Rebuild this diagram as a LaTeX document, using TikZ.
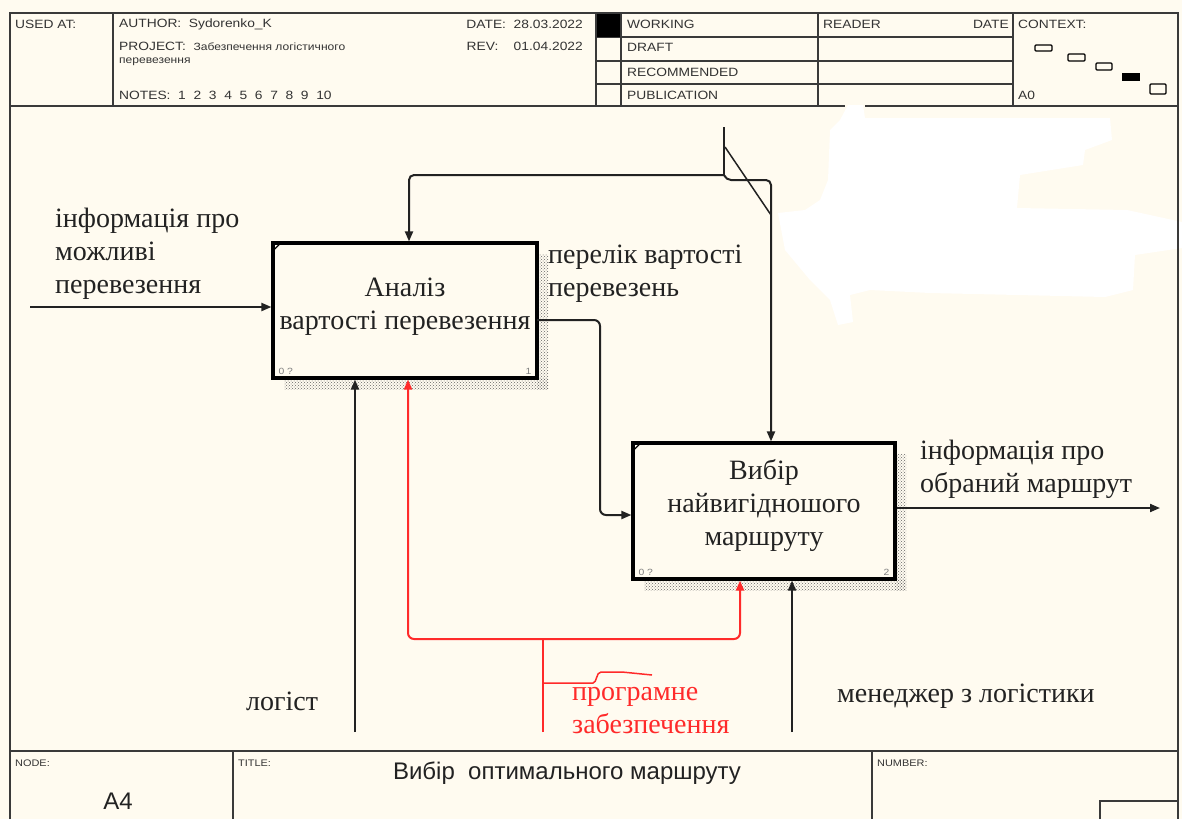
\documentclass[tikz,border=0pt]{standalone}
\usepackage{fontspec}
\setmainfont{Liberation Serif}
\newfontfamily\hsans{Liberation Sans}
\newfontfamily\hsansw[FakeStretch=1.15]{Liberation Sans}
\usetikzlibrary{arrows.meta,patterns,calc}
\definecolor{bg}{HTML}{FFFBF0}
\definecolor{frm}{HTML}{3A3A3A}
\definecolor{lab}{HTML}{333333}
\definecolor{idef}{HTML}{222222}
\definecolor{redc}{HTML}{FF2A2A}
\tikzset{
  frame/.style={draw=frm,line width=2pt},
  hdr/.style={font=\hsansw\fontsize{12}{14}\selectfont,text=lab,anchor=west,inner sep=0pt},
  hdrs/.style={font=\hsansw\fontsize{9.5}{11}\selectfont,text=lab,anchor=west,inner sep=0pt},
  actbox/.style={draw=black,line width=3.2pt,fill=bg,inner sep=0pt},
  boxtext/.style={align=center,inner sep=0pt,font=\fontsize{28}{33}\selectfont,text=idef},
  shadowstrip/.style={pattern=crosshatch dots,pattern color=black!60},
  lbl/.style={font=\fontsize{28}{33}\selectfont,text=idef,anchor=base west,align=left,inner sep=0pt},
  conn/.style={draw=idef,line width=2pt,rounded corners=6pt},
  arr/.style={conn,-{Triangle[length=10pt,width=8pt]}},
  rconn/.style={draw=redc,line width=2pt,rounded corners=6pt},
  rarr/.style={rconn,-{Triangle[length=10pt,width=8pt]}},
  tiny/.style={font=\hsansw\fontsize{9}{10}\selectfont,text=gray,inner sep=0pt},
  ctx/.style={draw=black,line width=1.2pt,fill=bg,rounded corners=1pt}
}
\begin{document}
\begin{tikzpicture}[x=1pt,y=-1pt]
\useasboundingbox (0,0) rectangle (1182,819);
\fill[bg] (0,0) rectangle (1182,819);
% erased white blob
\fill[white] (848,105) -- (863,105) -- (865,118) -- (1110,118) -- (1112,140) -- (1085,150) -- (1083,165) -- (1020,175) -- (1017,208) -- (1127,210) -- (1182,222) -- (1182,248) -- (1135,255) -- (1133,290) -- (1105,297) -- (930,293) -- (870,290) -- (850,295) -- (853,322) -- (838,325) -- (830,300) -- (810,280) -- (785,250) -- (778,213) -- (805,210) -- (820,200) -- (828,180) -- (830,130) -- (840,120) -- cycle;
% ---------- header ----------
\draw[frame] (10,819) -- (10,13) -- (1178,13) -- (1178,819);
\draw[frame] (10,106) -- (845,106);
\draw[frame] (865,106) -- (1178,106);
\draw[frame] (113,13) -- (113,106);
\draw[frame] (596,13) -- (596,106);
\draw[frame] (621,13) -- (621,106);
\draw[frame] (818,13) -- (818,106);
\draw[frame] (1013,13) -- (1013,106);
\draw[frame] (596,37) -- (1013,37);
\draw[frame] (596,61) -- (1013,61);
\draw[frame] (596,84) -- (1013,84);
\fill[black] (597,14) rectangle (620,37);
\node[hdr] (usedat) at (15,24) {USED AT:};
\node[hdr] (author) at (119,24) {AUTHOR:\ \ Sydorenko\_K};
\node[hdr] (project) at (119,46) {PROJECT:\ \ \fontsize{10.5}{12}\selectfont Забезпечення логістичного};
\node[hdrs] (project2) at (119,62) {\fontsize{10.5}{12}\selectfont перевезення};
\node[hdr] (notes) at (119,95) {NOTES:\ \ 1\ \ 2\ \ 3\ \ 4\ \ 5\ \ 6\ \ 7\ \ 8\ \ 9\ \ 10};
\node[hdr,anchor=east] (date) at (583,24) {DATE:\ \ 28.03.2022};
\node[hdr,anchor=east] (rev) at (583,46) {REV:\ \ \ \ 01.04.2022};
\node[hdr] (working) at (627,24) {WORKING};
\node[hdr] (draft) at (627,47) {DRAFT};
\node[hdr] (recom) at (627,72) {RECOMMENDED};
\node[hdr] (public) at (627,95) {PUBLICATION};
\node[hdr] (reader) at (823,24) {READER};
\node[hdr,anchor=east] (rdate) at (1009,24) {DATE};
\node[hdr] (context) at (1018,24) {CONTEXT:};
\node[hdr] (a0) at (1018,95) {A0};
\draw[ctx] (1035,45) rectangle (1052,51);
\draw[ctx] (1068,54) rectangle (1085,61);
\draw[ctx] (1096,63) rectangle (1112,70);
\fill[black] (1122,73) rectangle (1140,81);
\draw[ctx] (1150,84) rectangle (1166,94);
% ---------- footer ----------
\draw[frame] (10,751) -- (1178,751);
\draw[frame] (233,751) -- (233,819);
\draw[frame] (872,751) -- (872,819);
\draw[frame] (1100,819) -- (1100,801) -- (1178,801);
\node[hdrs] (nodelbl) at (15,763) {NODE:};
\node[hdrs] (titlelbl) at (238,763) {TITLE:};
\node[hdrs] (numlbl) at (877,763) {NUMBER:};
\node[font=\hsans\fontsize{24}{26}\selectfont,text=idef] (nodeid) at (118,801) {A4};
\node[font=\hsans\fontsize{24}{26}\selectfont,text=idef] (title) at (567,773) {Вибір\ \ оптимального маршруту};
% ---------- shadows ----------
\fill[shadowstrip] (537,254) rectangle (548,389);
\fill[shadowstrip] (284,378) rectangle (548,389);
\fill[shadowstrip] (895,454) rectangle (906,590);
\fill[shadowstrip] (644,579) rectangle (906,590);
% ---------- activity boxes ----------
\node[actbox,minimum width=264pt,minimum height=135pt] (A1) at (405,310.5) {};
\node[actbox,minimum width=262pt,minimum height=136pt] (A2) at (764,511) {};
\node[boxtext] (A1t) at ($(A1.center)+(0,-4)$) {Аналіз\\вартості перевезення};
\node[boxtext] (A2t) at ($(A2.center)+(0,-6)$) {Вибір\\найвигідношого\\маршруту};
\draw[black,line width=1.2pt] ($(A1.north west)+(1,10)$) -- ($(A1.north west)+(10,1)$);
\draw[black,line width=1.2pt] ($(A2.north west)+(1,10)$) -- ($(A2.north west)+(10,1)$);
\node[tiny,anchor=south west] (A1a) at ($(A1.south west)+(7,-5)$) {0 ?};
\node[tiny,anchor=south east] (A1n) at ($(A1.south east)+(-7,-5)$) {1};
\node[tiny,anchor=south west] (A2a) at ($(A2.south west)+(7,-5)$) {0 ?};
\node[tiny,anchor=south east] (A2n) at ($(A2.south east)+(-7,-5)$) {2};
% ---------- named points ----------
\coordinate (in1) at (30,307);
\coordinate (o1) at (537,320);
\coordinate (o1a) at (600,320);
\coordinate (o1b) at (600,515);
\coordinate (out2) at (1160,508);
\coordinate (ctop) at (724,127);
\coordinate (cj) at (724,175);
\coordinate (cL) at (409,175);
\coordinate (cR0) at (726,180);
\coordinate (cR) at (771,180);
\coordinate (m1) at (355,732);
\coordinate (m3) at (792,732);
\coordinate (rbot) at (543,732);
\coordinate (rj) at (543,639);
\coordinate (rL) at (408,639);
\coordinate (rR) at (740,639);
% ---------- inputs / outputs ----------
\draw[arr] (in1) -- (in1 -| A1.west);
\node[lbl] (lin1) at (55,293) {інформація про\\можливі\\перевезення};
\draw[arr] (o1) -- (o1a) -- (o1b) -- (o1b -| A2.west);
\node[lbl] (lo1) at (548,296) {перелік вартості\\перевезень};
\draw[arr] (A2.east |- out2) -- (out2);
\node[lbl] (lout2) at (920,492) {інформація про\\обраний маршрут};
% ---------- control ----------
\draw[conn] (ctop) -- (cj);
\draw[arr,rounded corners=5pt] (cj) -- (cL) -- (cL |- A1.north);
\draw[arr,rounded corners=5pt] (cj) -- (cR0) -- (cR) -- (cR |- A2.north);
\draw[draw=idef,line width=1.5pt] (725,147) -- (771,215);
% ---------- mechanisms ----------
\draw[arr] (m1) -- (m1 |- A1.south);
\node[lbl] (lm1) at (246,710) {логіст};
\draw[arr] (m3) -- (m3 |- A2.south);
\node[lbl] (lm3) at (837,702) {менеджер з логістики};
\draw[rconn] (rbot) -- (rj);
\draw[rarr] (rj) -- (rL) -- (rL |- A1.south);
\draw[rarr] (rj) -- (rR) -- (rR |- A2.south);
\draw[draw=redc,line width=1.5pt] (543,683) -- (593,683) .. controls (597,683) and (596,672) .. (601,672) -- (622,672) -- (652,675);
\node[lbl,text=redc] (lm2) at (572,733) {програмне\\забезпечення};
\end{tikzpicture}
\end{document}
